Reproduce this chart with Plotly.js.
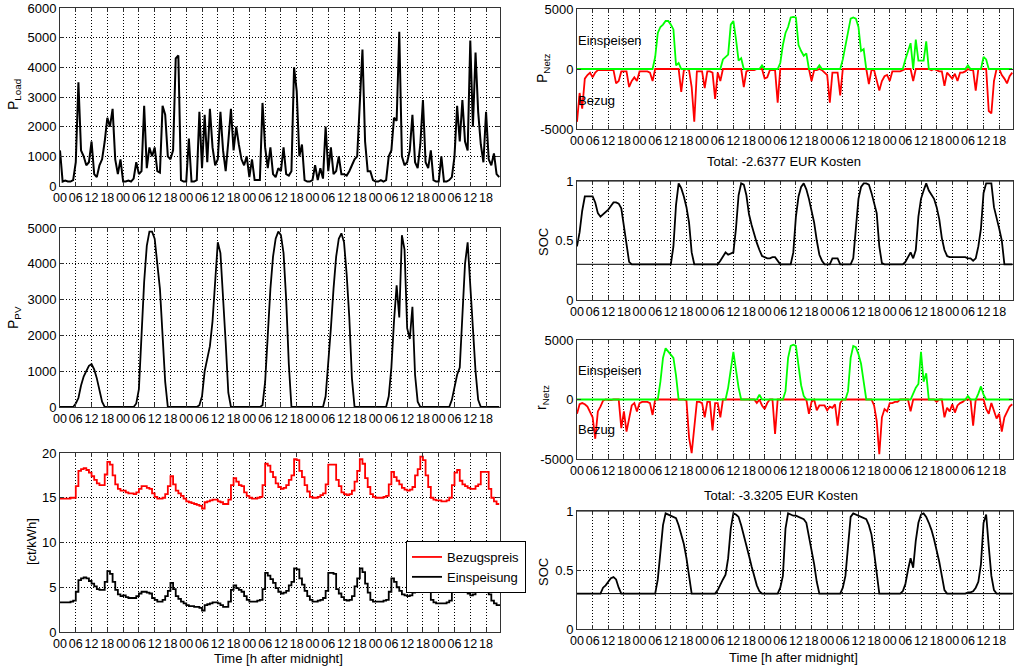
<!DOCTYPE html>
<html><head><meta charset="utf-8">
<script src="https://cdn.plot.ly/plotly-3.0.1.min.js"></script>
<style>html,body{margin:0;padding:0;background:#fff}#chart{width:1024px;height:672px}</style>
</head><body><div id="chart"></div>
<script>
// ---- DATA (hourly, 7 days) ----
const tickLabels = ['00','06','12','18'];
const days = 7;
const pLoad = [
 1200,150,180,150,150,200,800,3500,1200,1000,700,800,1500,400,300,700,900,1500,2300,2000,2600,900,400,900,
 150,150,180,150,250,800,400,500,2700,600,1300,1000,1300,500,450,2700,2400,1000,900,1200,4300,4400,200,150,
 150,1600,150,150,200,2500,600,2400,800,2600,1300,700,900,2500,1200,500,1500,2600,1200,2000,1400,900,700,1000,
 300,900,200,200,200,2800,1300,600,1300,400,300,600,500,1300,400,350,500,4000,3200,1000,1400,200,150,150,
 200,700,200,600,250,2000,500,1300,400,500,1000,400,400,350,500,700,900,1000,2800,4600,1500,500,500,200,
 150,150,200,150,200,1000,1200,2300,2200,5200,1000,700,800,1200,2400,800,600,1400,2900,800,600,1200,200,150,
 150,1000,150,150,200,300,1000,2700,1500,2900,1500,1200,4900,2000,4500,2500,1400,800,2500,900,700,1100,400,300];
const pPV = [
 0,0,0,0,0,0,100,250,600,850,1000,1150,1200,1050,800,450,150,0,0,0,0,0,0,0,
 0,0,0,0,0,100,500,2000,3500,4500,4900,4900,4700,4000,3300,2000,700,0,0,0,0,0,0,0,
 0,0,0,0,0,50,300,1000,1400,1700,2400,3500,4600,4300,3200,1800,400,0,0,0,0,0,0,0,
 0,0,0,0,0,50,700,2000,3300,4200,4700,4900,4800,4300,3000,1200,0,0,0,0,0,0,0,0,
 0,0,0,0,0,300,1200,2200,3300,4200,4700,4850,4600,3700,2500,800,0,0,0,0,0,0,0,0,
 0,0,0,0,0,300,1100,2400,3400,2500,4800,4400,2200,1900,2800,900,150,0,0,0,0,0,0,0,
 0,0,0,0,0,200,600,900,1100,2500,4000,4600,3300,2200,1000,200,0,0,0,0,0,0,0,0];
const bezugspreis = [
 14.9,14.9,14.9,14.9,15.0,15.0,16.3,18.0,18.2,18.3,18.1,17.8,17.4,17.0,16.6,16.4,16.4,17.6,19.0,18.7,17.5,16.5,16.0,15.8,
 15.8,15.6,15.5,15.5,15.4,15.6,16.0,16.3,16.3,16.1,16.0,15.5,15.1,14.9,14.9,15.0,15.4,16.3,17.4,16.5,15.8,15.5,15.2,14.9,
 14.6,14.5,14.4,14.3,14.2,14.1,13.8,14.5,14.6,14.7,14.8,14.8,14.6,14.5,14.3,14.3,14.8,16.4,17.2,16.8,16.4,16.3,15.6,15.2,
 15.0,14.9,14.9,15.0,15.1,16.4,18.8,18.6,17.9,17.3,16.6,16.2,16.0,16.1,16.4,17.0,17.5,19.3,19.2,18.0,17.3,16.4,15.7,15.1,
 15.0,15.0,15.1,15.3,15.5,16.5,18.7,18.7,18.7,17.0,16.3,15.6,15.4,15.3,15.4,15.8,16.8,18.0,19.3,18.8,17.2,16.2,15.4,15.1,
 15.0,15.0,15.0,15.1,15.2,16.5,17.9,17.3,16.9,16.5,16.1,15.9,15.8,15.9,16.2,17.5,18.2,19.6,19.2,17.5,16.2,15.0,14.8,14.7,
 14.7,14.6,14.6,14.7,15.0,16.4,17.8,18.1,16.9,16.5,16.3,16.1,16.0,16.0,16.3,16.5,17.9,17.9,17.9,16.0,15.0,14.6,14.3,14.3];
const einspeisung = [
 3.3,3.3,3.3,3.3,3.4,3.5,4.5,5.8,6.0,6.1,6.0,5.7,5.4,5.1,4.8,4.7,4.7,5.6,6.8,6.5,5.6,4.7,4.2,4.0,
 4.1,3.9,3.8,3.8,3.8,4.0,4.3,4.5,4.5,4.4,4.3,3.8,3.6,3.4,3.4,3.6,4.0,4.6,5.5,4.8,4.0,3.7,3.4,3.2,
 3.0,2.9,2.9,2.8,2.8,2.7,2.4,3.0,3.1,3.2,3.3,3.3,3.2,3.0,2.8,2.8,3.4,4.7,5.2,4.9,4.7,4.5,4.0,3.6,
 3.4,3.4,3.4,3.5,3.6,4.8,6.6,6.3,5.9,5.5,4.9,4.5,4.3,4.4,4.6,5.2,5.6,7.1,7.0,6.0,5.3,4.6,4.0,3.6,
 3.4,3.4,3.5,3.6,3.8,4.6,6.6,6.6,6.5,4.8,4.3,3.9,3.6,3.5,3.6,4.0,5.1,6.0,7.1,6.7,5.4,4.4,3.6,3.4,
 3.4,3.4,3.4,3.5,3.6,4.5,6.0,5.6,5.0,4.6,4.2,4.1,4.0,4.1,4.4,5.5,6.0,7.3,7.0,5.6,4.5,3.6,3.3,3.2,
 3.2,3.2,3.2,3.3,3.5,4.5,5.9,6.0,5.0,4.7,4.5,4.3,4.1,4.2,4.5,5.0,6.1,6.1,6.0,4.2,3.5,3.2,3.0,2.9];
const pNetz1 = [
 -4400,-2000,-3300,-800,-500,-300,-700,-300,-100,-100,-100,-100,-100,-100,-100,-1200,-1000,-200,-200,-200,-1500,-1000,-700,-1000,
 -200,-200,-200,-200,-300,-1000,1000,3000,3500,3700,4000,4000,3700,3300,300,500,-1900,-100,0,-100,-1500,-4400,-200,-200,
 -200,-1600,-200,-200,-300,-2500,-300,-1000,800,1000,1200,3700,4000,2500,700,900,-1500,-200,-100,-100,-100,0,0,300,
 -800,-700,-100,-100,-100,-2800,500,2000,3000,3500,4300,4350,4300,2000,1500,1100,1300,0,-1000,-100,-100,300,-100,-300,
 -500,-2800,-300,-300,-300,-2200,800,2000,3000,4200,4300,4200,3500,1500,1650,0,-1250,-100,-100,-1000,-1800,-1000,-600,-500,
 -1000,-200,-200,-200,-200,-100,800,1500,2150,-1000,2450,700,700,700,2300,0,-100,0,-100,-200,-200,-1400,-300,-600,
 -800,-400,-1000,-300,-300,-200,300,-100,-100,-1800,0,0,1000,800,-3500,-3700,-1000,0,0,-500,-800,-1200,-600,-300];
const soc1 = [
 0.45,0.57,0.75,0.87,0.87,0.87,0.87,0.82,0.73,0.70,0.72,0.74,0.76,0.79,0.82,0.82,0.81,0.77,0.63,0.48,0.32,0.3,0.3,0.3,
 0.3,0.3,0.3,0.3,0.3,0.3,0.3,0.3,0.3,0.3,0.3,0.3,0.3,0.45,0.8,0.98,0.94,0.87,0.78,0.65,0.4,0.3,0.3,0.3,
 0.3,0.3,0.3,0.3,0.3,0.3,0.3,0.33,0.37,0.4,0.38,0.39,0.4,0.6,0.88,0.98,0.97,0.88,0.72,0.63,0.55,0.48,0.42,0.37,
 0.36,0.35,0.35,0.36,0.36,0.33,0.3,0.3,0.3,0.3,0.3,0.4,0.7,0.87,0.95,0.98,0.93,0.85,0.76,0.65,0.5,0.38,0.33,0.3,
 0.3,0.3,0.35,0.35,0.35,0.3,0.3,0.3,0.3,0.3,0.35,0.6,0.85,0.95,0.98,0.98,0.97,0.9,0.82,0.73,0.45,0.31,0.3,0.3,
 0.3,0.3,0.3,0.3,0.3,0.3,0.32,0.36,0.4,0.35,0.42,0.7,0.85,0.92,0.98,0.92,0.88,0.85,0.78,0.68,0.52,0.42,0.37,0.36,
 0.36,0.36,0.36,0.36,0.36,0.36,0.35,0.35,0.33,0.35,0.45,0.6,0.9,0.98,0.98,0.98,0.78,0.7,0.6,0.5,0.3,0.3,0.3,0.3];
const pNetz2 = [
 -1200,-400,-300,-400,-600,-1000,-1500,-3300,-1000,-600,-100,0,-50,-50,0,0,0,-2400,-1000,-2700,-1500,-500,-300,-1000,
 -300,-200,-200,-200,-300,-1300,0,0,1500,3500,4300,4000,3800,3500,2000,0,0,0,-100,-3200,-4500,-2000,-200,-200,
 -300,-1500,-200,-200,-2600,-300,-300,-1500,0,0,1000,2500,4000,2500,1000,0,0,0,0,0,0,-300,400,-500,
 -800,-300,0,0,-2900,0,0,0,700,3500,4500,4600,4500,2800,1200,300,0,-1200,-200,0,-900,-500,-500,-500,
 -900,-600,-700,-400,-2200,-300,0,0,700,3500,4500,4400,3800,3000,1500,0,0,0,-500,-1800,-4600,-1500,-800,-1000,
 -300,-300,-200,-200,0,0,0,0,-1000,500,1000,1300,4000,1500,2200,0,0,0,-200,0,0,-1500,-700,-1000,
 -400,-1100,-500,-300,-200,0,300,0,-2200,0,500,1100,400,-800,-1200,-300,-1000,-1600,-1200,-2700,-1500,-1000,-600,-400];
const soc2 = [
 0.3,0.3,0.3,0.3,0.3,0.3,0.3,0.3,0.3,0.3,0.35,0.37,0.4,0.43,0.44,0.42,0.35,0.3,0.3,0.3,0.3,0.3,0.3,0.3,
 0.3,0.3,0.3,0.3,0.3,0.3,0.3,0.42,0.65,0.88,0.98,0.97,0.96,0.95,0.94,0.88,0.8,0.72,0.6,0.45,0.3,0.3,0.3,0.3,
 0.3,0.3,0.3,0.3,0.3,0.3,0.33,0.38,0.42,0.46,0.6,0.85,0.98,0.97,0.95,0.88,0.8,0.7,0.62,0.53,0.45,0.37,0.32,0.3,
 0.3,0.3,0.3,0.3,0.3,0.3,0.35,0.45,0.85,0.98,0.97,0.96,0.96,0.95,0.94,0.93,0.9,0.78,0.68,0.55,0.4,0.3,0.3,0.3,
 0.3,0.3,0.3,0.3,0.3,0.3,0.35,0.45,0.7,0.95,0.98,0.97,0.96,0.95,0.94,0.93,0.88,0.8,0.65,0.45,0.3,0.3,0.3,0.3,
 0.3,0.3,0.3,0.3,0.3,0.32,0.38,0.5,0.6,0.52,0.75,0.9,0.97,0.98,0.95,0.9,0.84,0.76,0.67,0.57,0.45,0.33,0.3,0.3,
 0.3,0.3,0.3,0.3,0.3,0.3,0.31,0.31,0.32,0.35,0.4,0.55,0.9,0.97,0.7,0.45,0.33,0.3,0.3,0.3,0.3,0.3,0.3,0.3];
const socLimits = [0.3, 1];
const totals = ['Total: -2.6377 EUR Kosten', 'Total: -3.3205 EUR Kosten'];

// ---- BUILD ----
const hours = pLoad.map((_, i) => i);
const tickvals = [], ticktext = [];
for (let d = 0; d < days; d++) tickLabels.forEach((t, k) => { tickvals.push(d * 24 + k * 6); ticktext.push(t); });

const W = 1024, H = 672;
const dx = (l, r) => [l / W, r / W];
const dy = (t, b) => [1 - b / H, 1 - t / H];
const FONT = 'Liberation Sans, Arial, sans-serif';
const AX = '#333';

function xax(dom, anchor) {
  return {domain: dom, anchor: anchor, range: [0, 167.3], tickvals: tickvals, ticktext: ticktext, tickangle: 0,
    ticks: 'inside', ticklen: 4, tickcolor: AX, showline: true, mirror: 'ticks', linecolor: AX, linewidth: 1,
    showgrid: true, gridcolor: '#000', griddash: '1px,2px', gridwidth: 1, zeroline: false, ticklabeloverflow: 'allow',
    tickfont: {size: 12.5, color: '#000', family: FONT}, fixedrange: true};
}
function yax(dom, anchor, range, vals, text) {
  return {domain: dom, anchor: anchor, range: range, tickvals: vals, ticktext: text, ticklabeloverflow: 'allow',
    ticks: 'inside', ticklen: 4, tickcolor: AX, showline: true, mirror: 'ticks', linecolor: AX, linewidth: 1,
    showgrid: true, gridcolor: '#000', griddash: '1px,2px', gridwidth: 1, zeroline: false,
    tickfont: {size: 13, color: '#000', family: FONT}, fixedrange: true};
}
const XL = dx(60, 500), XR = dx(577, 1013);
const loadTicks = [0,1000,2000,3000,4000,5000,6000];
const pvTicks = [0,1000,2000,3000,4000,5000];
const priceTicks = [0,5,10,15,20];
const netTicks = [-5000,0,5000];
const socTicks = [0,0.5,1];

const layout = {
  width: W, height: H, margin: {l: 0, r: 0, t: 0, b: 0},
  paper_bgcolor: '#fff', plot_bgcolor: '#fff',
  font: {family: FONT, size: 13, color: '#000'},
  showlegend: true,
  legend: {x: 406 / W, y: 1 - 541 / H, xanchor: 'left', yanchor: 'top', bordercolor: '#000', borderwidth: 1,
    bgcolor: '#fff', font: {size: 13, family: FONT}, tracegroupgap: 0, itemwidth: 30},
  xaxis: xax(XL, 'y'), yaxis: yax(dy(8, 186), 'x', [0, 6000], loadTicks, loadTicks.map(String)),
  xaxis2: xax(XL, 'y2'), yaxis2: yax(dy(228, 407), 'x2', [0, 5000], pvTicks, pvTicks.map(String)),
  xaxis3: xax(XL, 'y3'), yaxis3: yax(dy(453, 632), 'x3', [0, 20], priceTicks, priceTicks.map(String)),
  xaxis4: xax(XR, 'y4'), yaxis4: yax(dy(9, 129), 'x4', [-5000, 5000], netTicks, netTicks.map(String)),
  xaxis5: xax(XR, 'y5'), yaxis5: yax(dy(181, 300), 'x5', [0, 1], socTicks, socTicks.map(String)),
  xaxis6: xax(XR, 'y6'), yaxis6: yax(dy(340, 459), 'x6', [-5000, 5000], netTicks, netTicks.map(String)),
  xaxis7: xax(XR, 'y7'), yaxis7: yax(dy(511, 629), 'x7', [0, 1], socTicks, socTicks.map(String)),
  shapes: [], annotations: []
};
// SOC limit lines
[['x5','y5'],['x7','y7']].forEach(([xa, ya]) => socLimits.forEach(v => layout.shapes.push({
  type: 'line', xref: xa + ' domain', x0: 0, x1: 1, yref: ya, y0: v, y1: v, line: {color: '#000', width: 1}})));

function ann(text, x, y, opts) {
  layout.annotations.push(Object.assign({text: text, xref: 'paper', yref: 'paper', x: x / W, y: 1 - y / H,
    showarrow: false, font: {size: 13, family: FONT, color: '#000'}}, opts || {}));
}
const rot = {textangle: -90, xanchor: 'center', yanchor: 'middle'};
ann('P<sub>Load</sub>', 14, 95, Object.assign({font: {size: 14, family: FONT}}, rot));
ann('P<sub>PV</sub>', 14, 318, Object.assign({font: {size: 14, family: FONT}}, rot));
ann('[ct/kWh]', 31, 542, rot);
ann('P<sub>Netz</sub>', 543, 68, Object.assign({font: {size: 14, family: FONT}}, rot));
ann('SOC', 543, 242, rot);
ann('r<sub>Netz</sub>', 542, 398, Object.assign({font: {size: 14, family: FONT}}, rot));
ann('SOC', 543, 572, rot);
ann('Einspeisen', 576, 40, {xanchor: 'left', yanchor: 'middle'});
ann('Bezug', 576, 100, {xanchor: 'left', yanchor: 'middle'});
ann('Einspeisen', 576, 370, {xanchor: 'left', yanchor: 'middle'});
ann('Bezug', 576, 430, {xanchor: 'left', yanchor: 'middle'});
ann(totals[0], 784, 161, {xanchor: 'center', yanchor: 'middle'});
ann(totals[1], 781, 495, {xanchor: 'center', yanchor: 'middle'});
ann('Time [h after midnight]', 278, 658, {xanchor: 'center', yanchor: 'middle'});
ann('Time [h after midnight]', 793, 657, {xanchor: 'center', yanchor: 'middle'});

const RED = '#ff0000', GREEN = '#00ff00', BLACK = '#000';
function line(y, xa, ya, color, w, extra) {
  return Object.assign({x: hours, y: y, xaxis: xa, yaxis: ya, type: 'scatter', mode: 'lines',
    line: {color: color, width: w}, showlegend: false, hoverinfo: 'skip'}, extra || {});
}
const traces = [
  line(pLoad, 'x', 'y', BLACK, 2),
  line(pPV, 'x2', 'y2', BLACK, 1.8),
  line(bezugspreis, 'x3', 'y3', RED, 1.8, {name: 'Bezugspreis', showlegend: true, line: {color: RED, width: 1.8, shape: 'hv'}}),
  line(einspeisung, 'x3', 'y3', BLACK, 1.8, {name: 'Einspeisung', showlegend: true, line: {color: BLACK, width: 1.8, shape: 'hv'}}),
  line(pNetz1.map(v => Math.min(v, 0)), 'x4', 'y4', RED, 1.8),
  line(pNetz1.map(v => Math.max(v, 0)), 'x4', 'y4', GREEN, 1.8),
  line(soc1, 'x5', 'y5', BLACK, 1.8),
  line(pNetz2.map(v => Math.min(v, 0)), 'x6', 'y6', RED, 1.8),
  line(pNetz2.map(v => Math.max(v, 0)), 'x6', 'y6', GREEN, 1.8),
  line(soc2, 'x7', 'y7', BLACK, 1.8)
];
Plotly.newPlot('chart', traces, layout, {staticPlot: true, displayModeBar: false});
</script>
</body></html>
